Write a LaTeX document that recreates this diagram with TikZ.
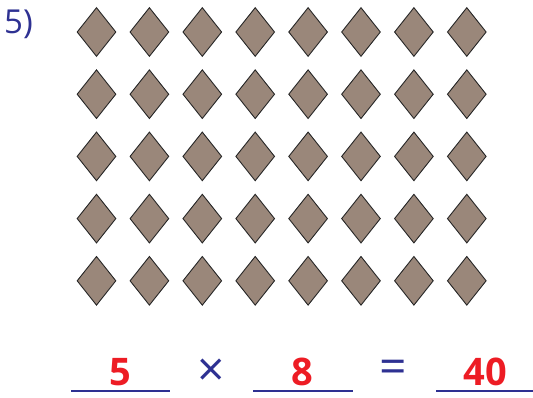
\documentclass[tikz,border=0pt]{standalone}
\usepackage{xcolor}
\usepackage{fontspec}
\setmainfont{Open Sans}
\usepackage{tikz}
\usetikzlibrary{shapes.geometric}
\definecolor{tileBrown}{RGB}{154,135,122}
\definecolor{inkBlue}{RGB}{46,49,146}
\definecolor{ansRed}{RGB}{237,28,36}
\tikzset{
  tile/.style={diamond,draw=black!85,fill=tileBrown,line width=.9pt,inner sep=0pt,minimum width=39pt,minimum height=49pt},
  ans/.style={text=ansRed,font=\fontsize{38}{38}\selectfont\bfseries,inner sep=0pt,anchor=base},
  sym/.style={text=inkBlue,font=\fontsize{48}{48}\selectfont,inner sep=0pt}
}
\begin{document}
\begin{tikzpicture}[x=1pt,y=-1pt]
\useasboundingbox (0,0) rectangle (533,397);
\node[anchor=base west,inner sep=0pt,text=inkBlue,font=\fontsize{33}{33}\selectfont] (num) at (4,33) {5)};
\foreach \c in {0,...,7}
  \foreach \r in {0,...,4}
    \node[tile] (d-\c-\r) at (96.5+52.9*\c,32+62.2*\r) {};
\draw[inkBlue,line width=2pt] (71,391)--(170,391);
\draw[inkBlue,line width=2pt] (253,391)--(353,391);
\draw[inkBlue,line width=2pt] (436,391)--(533,391);
\node[ans] (a) at (120.5,385) {5};
\node[sym] (times) at (211,372.5) {×};
\node[ans] (b) at (302.5,385) {8};
\node[sym] (eq) at (393.5,371.5) {=};
\node[ans] (c) at (485.5,385) {40};
\end{tikzpicture}
\end{document}
